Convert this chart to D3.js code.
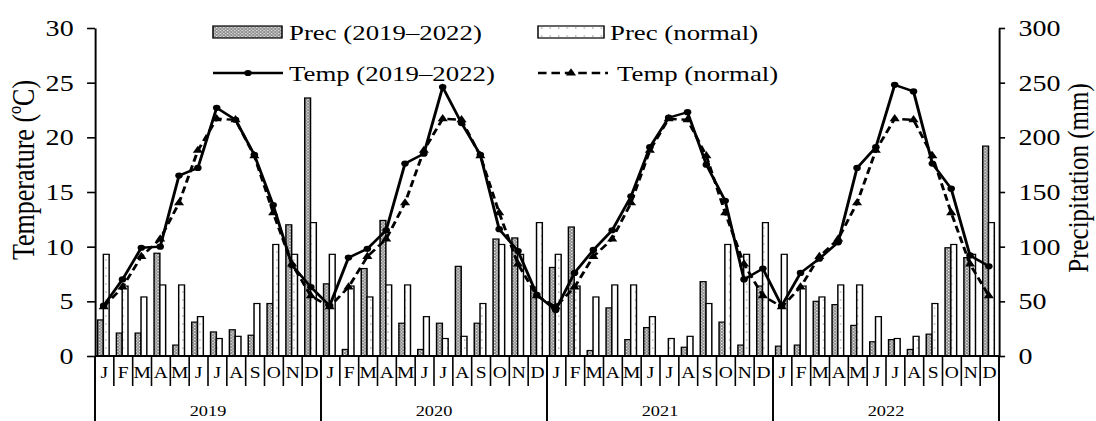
<!DOCTYPE html>
<html>
<head>
<meta charset="utf-8">
<script src="https://cdn.jsdelivr.net/npm/d3@7"></script>
<style>
  body { margin: 0; background: #fff; }
  svg { display: block; }
  text { font-family: "Liberation Serif", "Times New Roman", serif; fill: #000; }
</style>
</head>
<body>
<div id="chart"></div>
<script>
// data
const monthLabels = ["J", "F", "M", "A", "M", "J", "J", "A", "S", "O", "N", "D"];
const yearLabels = ["2019", "2020", "2021", "2022"];

// monthly precipitation (mm), Jan 2019 .. Dec 2022
const precObs = [
  33, 21, 21, 94, 10, 31, 22, 24, 19, 48, 120, 236,
  66, 6, 80, 124, 30, 6, 30, 82, 30, 107, 108, 63,
  81, 118, 5, 44, 15, 26, 0, 8, 68, 31, 10, 64,
  9, 10, 50, 47, 28, 13, 15, 6, 20, 99, 90, 192
];
// climate normal precipitation (mm), one value per month
const precNormal = [93, 64, 54, 65, 65, 36, 16, 18, 48, 102, 93, 122];

// monthly mean temperature (°C), Jan 2019 .. Dec 2022
const tempObs = [
  4.6, 7.0, 9.9, 10.0, 16.5, 17.2, 22.7, 21.6, 18.4, 13.8, 8.3, 6.3,
  4.6, 9.0, 9.8, 11.5, 17.6, 18.5, 24.6, 21.3, 18.4, 11.6, 9.6, 5.6,
  4.2, 7.6, 9.7, 11.5, 14.6, 19.1, 21.8, 22.3, 17.5, 14.2, 7.0, 8.0,
  4.6, 7.6, 8.9, 10.4, 17.2, 19.1, 24.8, 24.2, 17.6, 15.3, 9.2, 8.2
];
const tempNormal = [4.5, 6.3, 9.1, 10.7, 14.0, 18.8, 21.7, 21.6, 18.3, 13.1, 8.4, 5.5];

const tempTicks = [0, 5, 10, 15, 20, 25, 30];
const precTicks = [0, 50, 100, 150, 200, 250, 300];

const legendItems = ["Prec (2019–2022)", "Prec (normal)", "Temp (2019–2022)", "Temp (normal)"];

(function drawChart() {
  // the source picture is stretched sideways, so draw in a narrower box and let the svg stretch it
  const W = 1096, H = 421;
  const sx = 1.22;
  const vw = W / sx;

  const pL = 95 / sx, pR = 999 / sx;
  const pT = 28, pB = 356;

  const rows = precObs.map((p, i) => ({
    i: i,
    month: i % 12,
    year: Math.floor(i / 12),
    prec: p,
    precN: precNormal[i % 12],
    temp: tempObs[i],
    tempN: tempNormal[i % 12]
  }));

  const svg = d3.select("#chart").append("svg")
    .attr("width", W).attr("height", H)
    .attr("viewBox", `0 0 ${vw} ${H}`)
    .attr("preserveAspectRatio", "none");

  // fill patterns
  const defs = svg.append("defs");
  const pObs = defs.append("pattern").attr("id", "pObs")
    .attr("patternUnits", "userSpaceOnUse").attr("width", 3).attr("height", 3);
  pObs.append("rect").attr("width", 3).attr("height", 3).attr("fill", "#8e8e8e");
  pObs.append("rect").attr("x", 0).attr("y", 0).attr("width", 1.1).attr("height", 1.1).attr("fill", "#f0f0f0");
  pObs.append("rect").attr("x", 1.5).attr("y", 1.5).attr("width", 1.1).attr("height", 1.1).attr("fill", "#f0f0f0");

  const pNorm = defs.append("pattern").attr("id", "pNorm")
    .attr("patternUnits", "userSpaceOnUse").attr("width", 7).attr("height", 8);
  pNorm.append("rect").attr("width", 7).attr("height", 8).attr("fill", "#fff");
  pNorm.append("circle").attr("cx", 3).attr("cy", 4).attr("r", 0.55).attr("fill", "#555");

  // scales
  const x = d3.scaleBand().domain(d3.range(48)).range([pL, pR]);
  const xSub = d3.scaleBand().domain(["prec", "precN"]).range([2.1, 11.6]);
  const yT = d3.scaleLinear().domain([0, 30]).range([pB, pT]);
  const yP = d3.scaleLinear().domain([0, 300]).range([pB, pT]);
  const cx = i => x(i) + x.bandwidth() / 2 - 0.6;

  // bars
  const g = svg.append("g");
  ["prec", "precN"].forEach(key => {
    g.selectAll(".bar-" + key).data(rows).enter().append("rect")
      .attr("class", "bar-" + key)
      .attr("x", d => x(d.i) + xSub(key))
      .attr("width", xSub.bandwidth())
      .attr("y", d => yP(d[key]))
      .attr("height", d => pB - yP(d[key]))
      .attr("fill", key === "prec" ? "url(#pObs)" : "url(#pNorm)")
      .attr("stroke", d => d[key] > 0 ? "#000" : "none")
      .attr("stroke-width", 1.2);
  });

  // temperature lines
  const line = key => d3.line().x(d => cx(d.i)).y(d => yT(d[key]));
  g.append("path").datum(rows)
    .attr("d", line("tempN"))
    .attr("fill", "none").attr("stroke", "#000").attr("stroke-width", 2.4)
    .attr("stroke-dasharray", "7,4");
  g.append("path").datum(rows)
    .attr("d", line("temp"))
    .attr("fill", "none").attr("stroke", "#000").attr("stroke-width", 2.4);

  const tri = d3.symbol(d3.symbolTriangle, 30);
  g.selectAll(".mk-n").data(rows).enter().append("path")
    .attr("class", "mk-n")
    .attr("d", tri)
    .attr("transform", d => `translate(${cx(d.i)},${yT(d.tempN)})`)
    .attr("fill", "#000");
  g.selectAll(".mk-o").data(rows).enter().append("circle")
    .attr("class", "mk-o")
    .attr("cx", d => cx(d.i)).attr("cy", d => yT(d.temp))
    .attr("r", 3.1).attr("fill", "#000");

  // axes
  const axL = svg.append("g").attr("transform", `translate(${pL},0)`)
    .call(d3.axisLeft(yT).tickValues(tempTicks).tickSize(6.5).tickSizeOuter(0).tickPadding(11));
  const axR = svg.append("g").attr("transform", `translate(${pR},0)`)
    .call(d3.axisRight(yP).tickValues(precTicks).tickSize(5).tickSizeOuter(0).tickPadding(11));
  [axL, axR].forEach(ax => {
    ax.select(".domain").attr("stroke-width", 1.6);
    ax.selectAll(".tick line").attr("stroke-width", 1.6);
    ax.selectAll("text").attr("font-size", 23);
    ax.attr("font-family", null).attr("font-size", null);
  });

  // category axis: baseline, month and year separators
  svg.append("line")
    .attr("x1", pL).attr("x2", pR).attr("y1", pB).attr("y2", pB)
    .attr("stroke", "#000").attr("stroke-width", 2);

  svg.selectAll(".msep").data(d3.range(1, 48).filter(i => i % 12 !== 0)).enter().append("line")
    .attr("x1", i => x(i)).attr("x2", i => x(i))
    .attr("y1", pB).attr("y2", 386)
    .attr("stroke", "#000").attr("stroke-width", 1.3);

  svg.selectAll(".ysep").data(d3.range(0, 49, 12)).enter().append("line")
    .attr("x1", i => i < 48 ? x(i) : pR).attr("x2", i => i < 48 ? x(i) : pR)
    .attr("y1", pB).attr("y2", H)
    .attr("stroke", "#000").attr("stroke-width", 1.6);

  svg.selectAll(".mlab").data(rows).enter().append("text")
    .attr("x", d => x(d.i) + x.bandwidth() / 2)
    .attr("y", 378)
    .attr("text-anchor", "middle").attr("font-size", 16)
    .text(d => monthLabels[d.month]);

  svg.selectAll(".ylab").data(yearLabels).enter().append("text")
    .attr("x", (d, k) => x(k * 12) + x.bandwidth() * 6)
    .attr("y", 416)
    .attr("text-anchor", "middle").attr("font-size", 15)
    .text(d => d);

  // axis titles (rotated, baseline given as the x of the translate)
  svg.append("text")
    .attr("transform", `translate(${34 / sx},170) rotate(-90)`)
    .attr("text-anchor", "middle").attr("font-size", 26)
    .text("Temperature (ºC)");
  svg.append("text")
    .attr("transform", `translate(${1088 / sx},178) rotate(-90)`)
    .attr("text-anchor", "middle").attr("font-size", 25)
    .text("Precipitation (mm)");

  // legend
  const lg = svg.append("g");
  const row1 = 32, row2 = 73;
  lg.append("rect").attr("x", 213 / sx).attr("y", row1 - 6).attr("width", 69 / sx).attr("height", 12)
    .attr("fill", "url(#pObs)").attr("stroke", "#000").attr("stroke-width", 1.2);
  lg.append("rect").attr("x", 538 / sx).attr("y", row1 - 6).attr("width", 66 / sx).attr("height", 12)
    .attr("fill", "url(#pNorm)").attr("stroke", "#000").attr("stroke-width", 1.2);
  lg.append("line").attr("x1", 213 / sx).attr("x2", 283 / sx).attr("y1", row2).attr("y2", row2)
    .attr("stroke", "#000").attr("stroke-width", 2.4);
  lg.append("circle").attr("cx", 248 / sx).attr("cy", row2).attr("r", 3.1).attr("fill", "#000");
  lg.append("line").attr("x1", 538 / sx).attr("x2", 608 / sx).attr("y1", row2).attr("y2", row2)
    .attr("stroke", "#000").attr("stroke-width", 2.4).attr("stroke-dasharray", "7,4");
  lg.append("path").attr("d", tri).attr("transform", `translate(${571 / sx},${row2})`).attr("fill", "#000");

  const legendPos = [[289, row1], [610, row1], [289, row2], [617, row2]];
  lg.selectAll(".ltxt").data(legendItems).enter().append("text")
    .attr("x", (d, k) => legendPos[k][0] / sx)
    .attr("y", (d, k) => legendPos[k][1])
    .attr("dy", "0.35em").attr("font-size", 22)
    .text(d => d);
})();
</script>
</body>
</html>
